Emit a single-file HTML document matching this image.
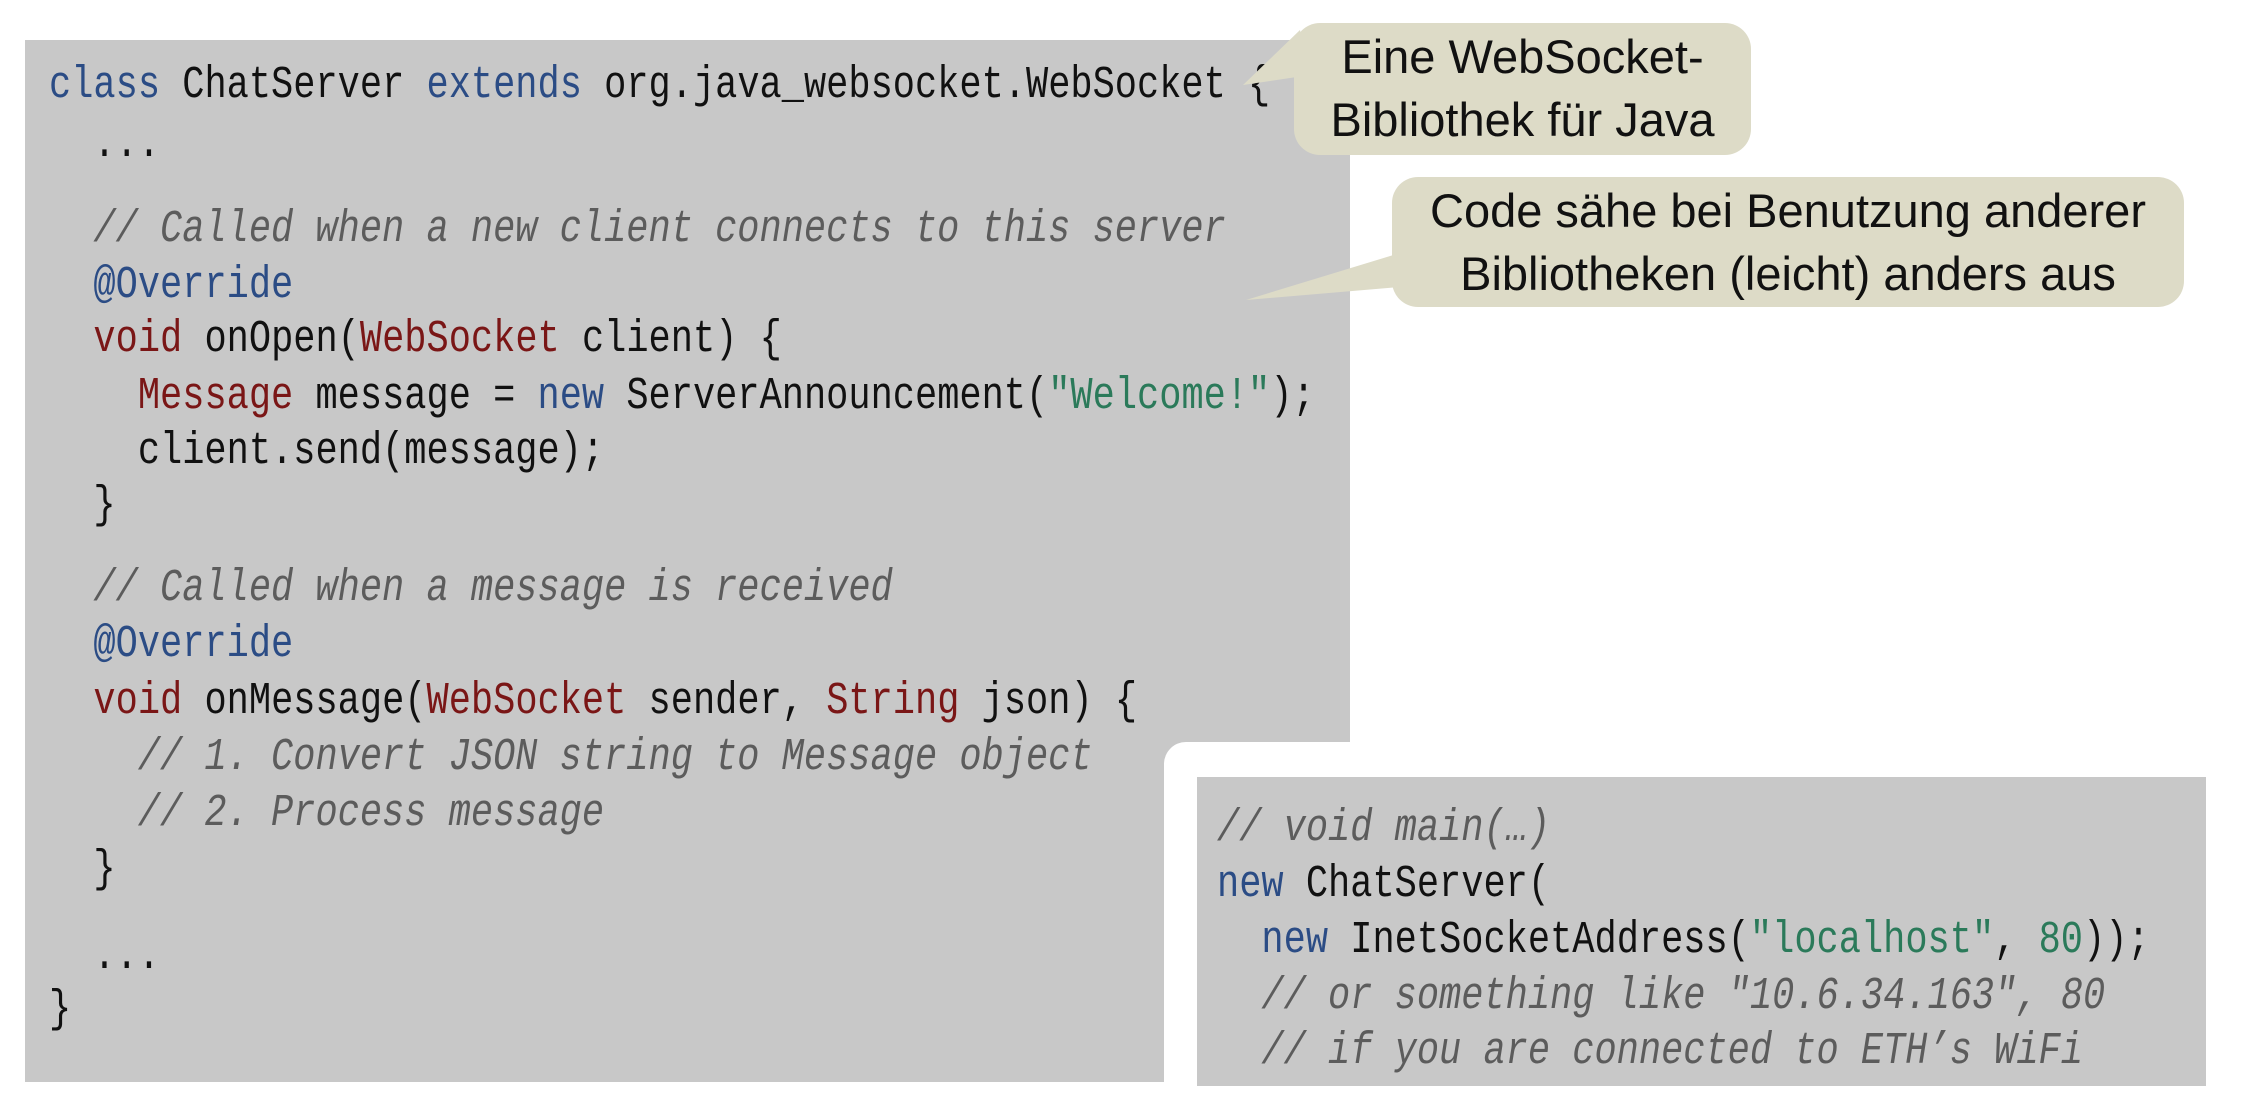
<!DOCTYPE html>
<html><head><meta charset="utf-8"><style>
html,body{margin:0;padding:0;width:2246px;height:1108px;background:#fff;overflow:hidden;position:relative}
.g{position:absolute;background:#c8c8c8}
.l{position:absolute;font-family:"Liberation Mono",monospace;font-size:37px;line-height:56px;height:56px;white-space:pre;color:#111;transform:scaleY(1.22);transform-origin:50% 50%}
.k{color:#2b4c85}.r{color:#7a1616}.s{color:#2b7a5a}.c{color:#5c5c5c;font-style:italic}
.b{position:absolute;background:#dddbc7;border-radius:26px;font-family:"Liberation Sans",sans-serif;font-size:47px;color:#111;text-align:center;line-height:63px}
</style></head><body>
<div class="g" style="left:25px;top:40px;width:1325px;height:1042px"></div>
<div style="position:absolute;left:1164px;top:742px;width:1082px;height:366px;background:#fff;border-top-left-radius:22px"></div>
<div class="g" style="left:1197px;top:777px;width:1009px;height:309px"></div>

<div class="l" style="left:49px;top:58px"><span class="k">class</span> ChatServer <span class="k">extends</span> org.java_websocket.WebSocket {</div>
<div class="l" style="left:49px;top:117px">  ...</div>
<div class="l" style="left:49px;top:202px"><span class="c">  // Called when a new client connects to this server</span></div>
<div class="l" style="left:49px;top:258px">  <span class="k">@Override</span></div>
<div class="l" style="left:49px;top:312px">  <span class="r">void</span> onOpen(<span class="r">WebSocket</span> client) {</div>
<div class="l" style="left:49px;top:369px">    <span class="r">Message</span> message = <span class="k">new</span> ServerAnnouncement(<span class="s">"Welcome!"</span>);</div>
<div class="l" style="left:49px;top:424px">    client.send(message);</div>
<div class="l" style="left:49px;top:478px">  }</div>
<div class="l" style="left:49px;top:561px"><span class="c">  // Called when a message is received</span></div>
<div class="l" style="left:49px;top:617px">  <span class="k">@Override</span></div>
<div class="l" style="left:49px;top:674px">  <span class="r">void</span> onMessage(<span class="r">WebSocket</span> sender, <span class="r">String</span> json) {</div>
<div class="l" style="left:49px;top:730px"><span class="c">    // 1. Convert JSON string to Message object</span></div>
<div class="l" style="left:49px;top:786px"><span class="c">    // 2. Process message</span></div>
<div class="l" style="left:49px;top:842px">  }</div>
<div class="l" style="left:49px;top:929px">  ...</div>
<div class="l" style="left:49px;top:982px">}</div>

<div class="l" style="left:1217px;top:801px"><span class="c">// void main(…)</span></div>
<div class="l" style="left:1217px;top:857px"><span class="k">new</span> ChatServer(</div>
<div class="l" style="left:1217px;top:913px">  <span class="k">new</span> InetSocketAddress(<span class="s">"localhost"</span>, <span class="s">80</span>));</div>
<div class="l" style="left:1217px;top:969px"><span class="c">  // or something like "10.6.34.163", 80</span></div>
<div class="l" style="left:1217px;top:1024px"><span class="c">  // if you are connected to ETH’s WiFi</span></div>

<svg style="position:absolute;left:0;top:0" width="2246" height="1108">
<polygon points="1243,85 1300,30 1310,75" fill="#dddbc7"/>
<polygon points="1246,300 1400,253 1400,287" fill="#dddbc7"/>
</svg>
<div class="b" style="left:1294px;top:23px;width:457px;height:132px;padding-top:2px;box-sizing:border-box">Eine WebSocket-<br>Bibliothek für Java</div>
<div class="b" style="left:1392px;top:177px;width:792px;height:130px;padding-top:2px;box-sizing:border-box">Code sähe bei Benutzung anderer<br>Bibliotheken (leicht) anders aus</div>
</body></html>
